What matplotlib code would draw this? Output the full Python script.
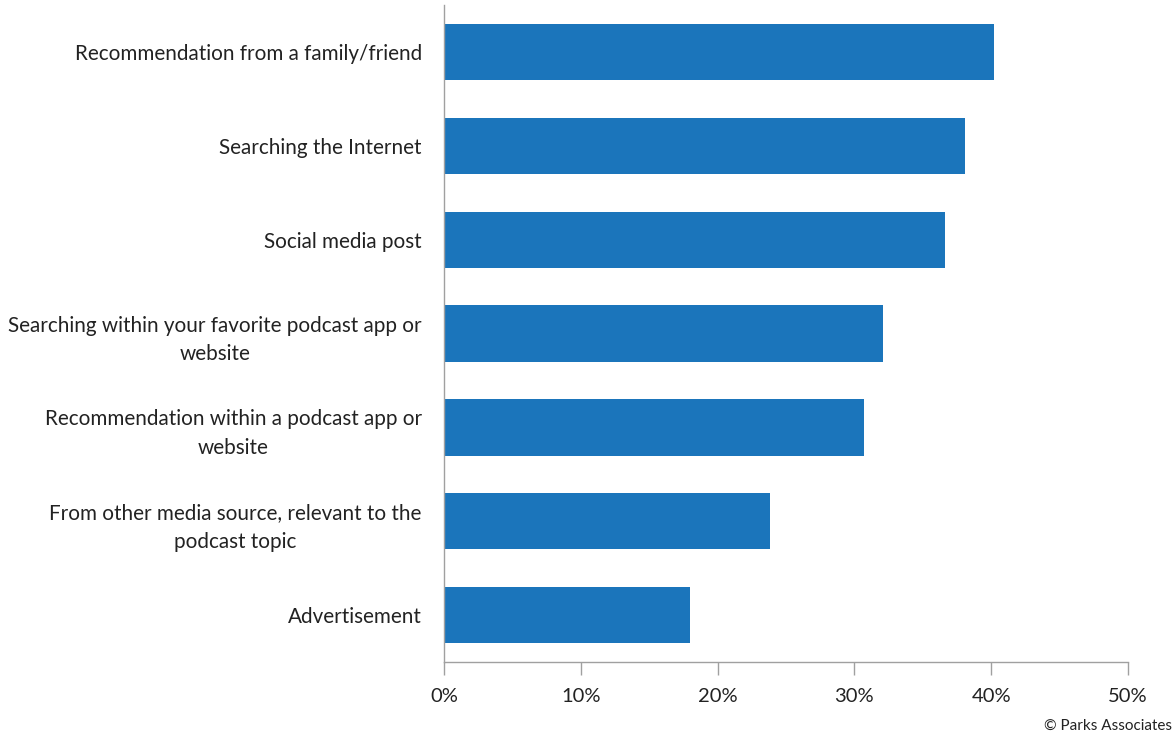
import matplotlib.pyplot as plt
import numpy as np

# Survey answers, top to bottom as in the chart
categories = [
	"Recommendation from a family/friend",
	"Searching the Internet",
	"Social media post",
	"Searching within your favorite podcast app or\nwebsite",
	"Recommendation within a podcast app or\nwebsite",
	"From other media source, relevant to the\npodcast topic",
	"Advertisement",
]
values = [40.2, 38.1, 36.6, 32.1, 30.7, 23.8, 18.0]
x_ticks = [0, 10, 20, 30, 40, 50]
x_tick_labels = ["0%", "10%", "20%", "30%", "40%", "50%"]


def main():
	plt.rcParams['font.family'] = ['Lato', 'DejaVu Sans']
	fig = plt.figure(figsize=(11.73, 7.34), dpi=100)
	ax = fig.add_axes([0.3785, 0.0981, 0.5831, 0.895])

	y = np.arange(len(categories))
	ax.barh(y, values, height=0.6, color="#1b75bb")
	ax.set_ylim(len(categories) - 0.5, -0.5)
	ax.set_xlim(0, 50)

	ax.set_yticks(y)
	ax.set_yticklabels(categories, fontsize=14.9, color="#222222",
		multialignment="center", linespacing=1.52)
	ax.tick_params(axis="y", length=0, pad=16)

	ax.set_xticks(x_ticks)
	ax.set_xticklabels(x_tick_labels, fontsize=14.5, color="#222222")
	ax.tick_params(axis="x", direction="out", length=9, width=1, color="#a0a0a0", pad=10)

	for side in ["top", "right"]:
		ax.spines[side].set_visible(False)
	for side in ["left", "bottom"]:
		ax.spines[side].set_color("#a0a0a0")
		ax.spines[side].set_linewidth(1)

	fig.text(0.999, 0.002, "\u00a9 Parks Associates", ha="right", va="bottom",
		fontsize=11, color="#222222")

	fig.savefig("out.png", dpi=100)


if __name__ == "__main__":
	main()
